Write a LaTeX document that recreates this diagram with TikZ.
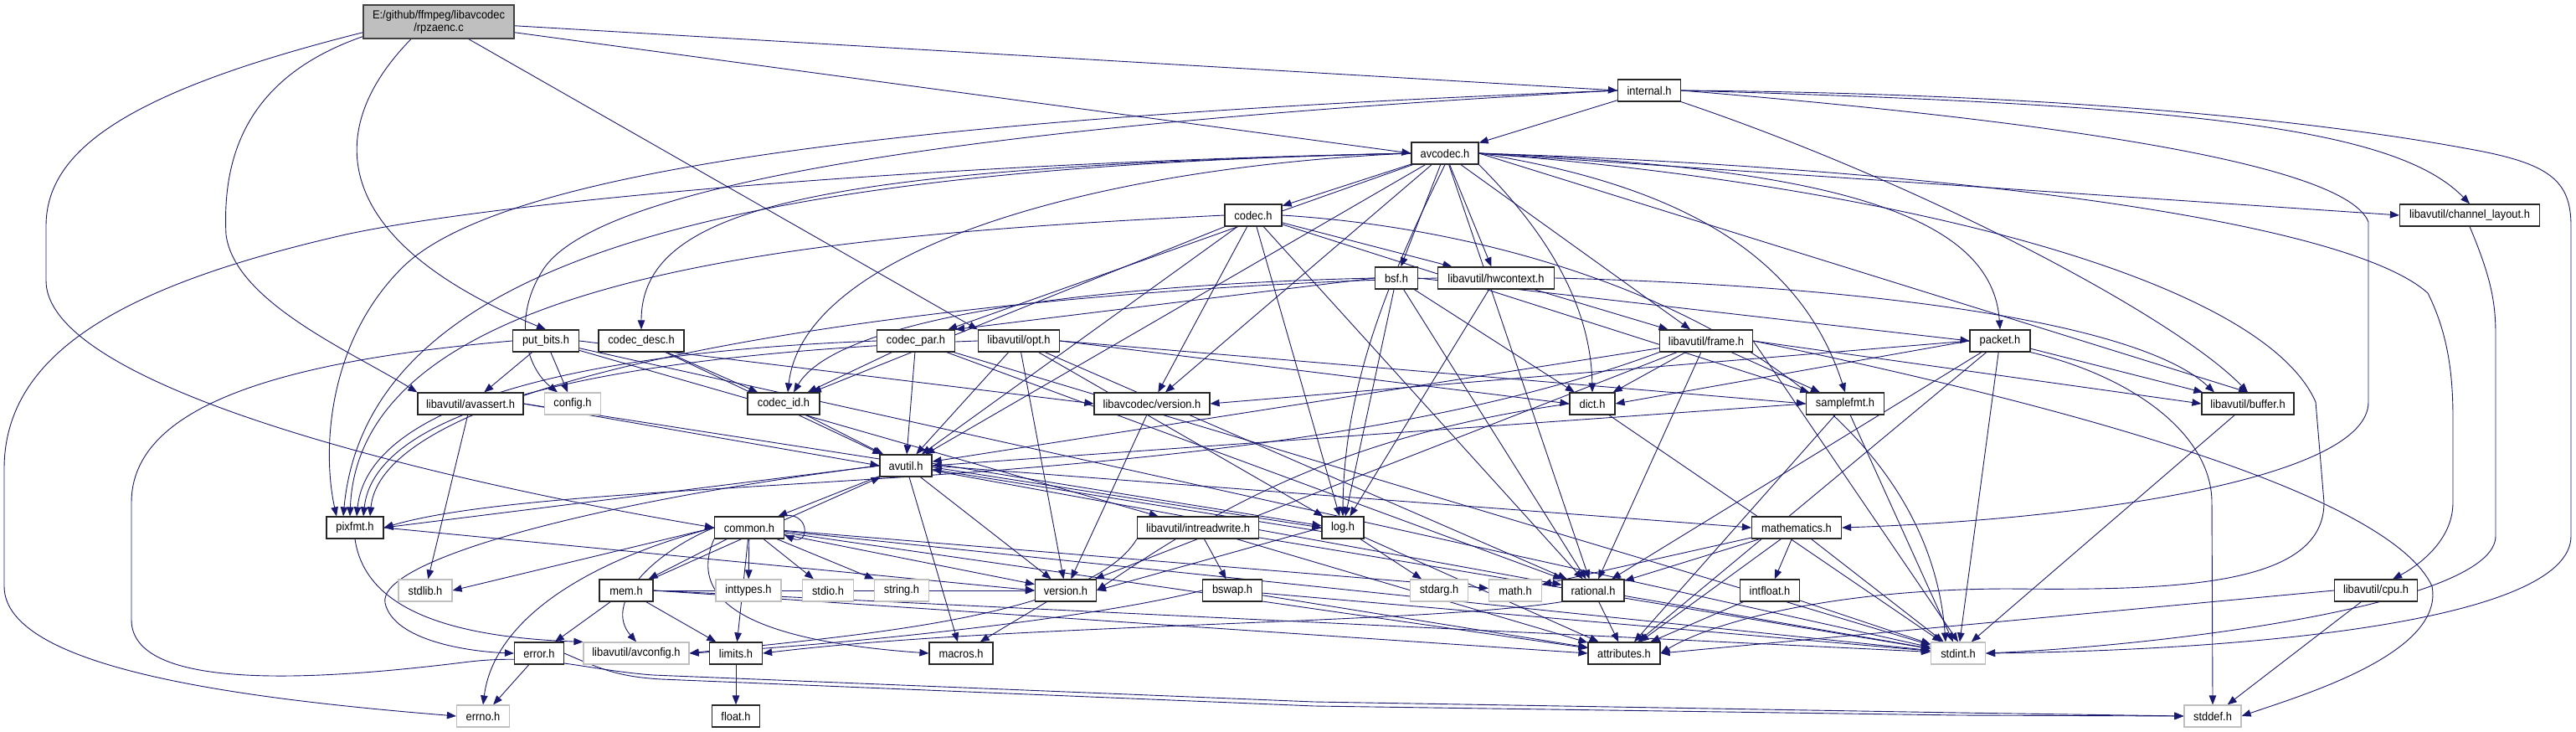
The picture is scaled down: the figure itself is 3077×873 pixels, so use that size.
\documentclass[tikz,border=0pt]{standalone}
\usepackage{fontspec}
\setmainfont[FakeStretch=0.92]{Liberation Sans}
\usetikzlibrary{arrows.meta}
\definecolor{edgec}{HTML}{191970}
\definecolor{sysc}{HTML}{BFBFBF}
\definecolor{rootc}{HTML}{BFBFBF}
\pgfdeclarelayer{edgelayer}
\pgfsetlayers{edgelayer,main}
\begin{document}
\begin{tikzpicture}[x=1pt,y=-1pt,
  nd/.style={draw=black!85, fill=white, line width=1.2pt, minimum height=26pt, inner sep=0pt, font=\fontsize{14}{15}\selectfont},
  sys/.style={nd, draw=sysc},
  e/.style={draw=edgec, line width=0.9pt, -{Triangle[length=11pt,width=8.5pt]}}]
\useasboundingbox (0,0) rectangle (3077,873);
% nodes
\node[nd,fill=rootc,draw=black!75,minimum width=180pt,minimum height=40pt,align=center] (root) at (524,26) {E:/github/ffmpeg/libavcodec\\/rpzaenc.c};
\node[nd,minimum width=75pt] (internal) at (1970,108) {internal.h};
\node[nd,minimum width=80pt] (avcodec) at (1726,183) {avcodec.h};
\node[nd,minimum width=68pt] (codec) at (1497,257) {codec.h};
\node[nd,minimum width=167pt] (chlayout) at (2950,257) {libavutil/channel\_layout.h};
\node[nd,minimum width=51pt] (bsf) at (1668,332) {bsf.h};
\node[nd,minimum width=139pt] (hwctx) at (1787,332) {libavutil/hwcontext.h};
\node[nd,minimum width=79pt] (putbits) at (652,407) {put\_bits.h};
\node[nd,minimum width=102pt] (codecdesc) at (766,407) {codec\_desc.h};
\node[nd,minimum width=93pt] (codecpar) at (1094,407) {codec\_par.h};
\node[nd,minimum width=97pt] (opt) at (1217,407) {libavutil/opt.h};
\node[nd,minimum width=111pt] (frame) at (2038,407) {libavutil/frame.h};
\node[nd,minimum width=72pt] (packet) at (2389,407) {packet.h};
\node[nd,minimum width=126pt] (avassert) at (562,482) {libavutil/avassert.h};
\node[sys,minimum width=67pt] (config) at (684,482) {config.h};
\node[nd,minimum width=86pt] (codecid) at (936,482) {codec\_id.h};
\node[nd,minimum width=138pt] (lavcversion) at (1376,482) {libavcodec/version.h};
\node[nd,minimum width=54pt] (dict) at (1902,482) {dict.h};
\node[nd,minimum width=93pt] (samplefmt) at (2204,482) {samplefmt.h};
\node[nd,minimum width=110pt] (buffer) at (2685,482) {libavutil/buffer.h};
\node[nd,minimum width=62pt] (avutil) at (1082,556) {avutil.h};
\node[nd,minimum width=68pt] (pixfmt) at (424,630) {pixfmt.h};
\node[nd,minimum width=83pt] (common) at (895,630) {common.h};
\node[nd,minimum width=145pt] (intrw) at (1431,630) {libavutil/intreadwrite.h};
\node[nd,minimum width=50pt] (log) at (1604,630) {log.h};
\node[nd,minimum width=107pt] (math) at (2146,630) {mathematics.h};
\node[sys,minimum width=64pt] (stdlib) at (508,705) {stdlib.h};
\node[nd,minimum width=64pt] (mem) at (748,705) {mem.h};
\node[sys,minimum width=78pt] (inttypes) at (894,705) {inttypes.h};
\node[sys,minimum width=61pt] (stdio) at (989,705) {stdio.h};
\node[sys,minimum width=65pt] (string) at (1077,705) {string.h};
\node[nd,minimum width=73pt] (version) at (1273,705) {version.h};
\node[nd,minimum width=71pt] (bswap) at (1472,705) {bswap.h};
\node[sys,minimum width=69pt] (stdarg) at (1719,705) {stdarg.h};
\node[sys,minimum width=63pt] (mathh) at (1810,705) {math.h};
\node[nd,minimum width=74pt] (rational) at (1903,705) {rational.h};
\node[nd,minimum width=71pt] (intfloat) at (2114,705) {intfloat.h};
\node[nd,minimum width=99pt] (cpu) at (2838,705) {libavutil/cpu.h};
\node[nd,minimum width=59pt] (error) at (644,780) {error.h};
\node[sys,minimum width=126pt] (avconfig) at (760,780) {libavutil/avconfig.h};
\node[nd,minimum width=63pt] (limits) at (879,780) {limits.h};
\node[nd,minimum width=76pt] (macros) at (1148,780) {macros.h};
\node[nd,minimum width=86pt] (attributes) at (1940,780) {attributes.h};
\node[sys,minimum width=65pt] (stdint) at (2339,780) {stdint.h};
\node[sys,minimum width=63pt] (errno) at (577,855) {errno.h};
\node[nd,minimum width=57pt] (float) at (879,855) {float.h};
\node[sys,minimum width=68pt] (stddef) at (2643,855) {stddef.h};
\begin{pgfonlayer}{edgelayer}
\fill[white] (0,0) rectangle (3077,873);
% root
\draw[e] (root.-3) -- (internal.west);
\draw[e] (root.-8) -- (avcodec.west);
\draw[e] (root.-30) -- (opt.north west);
\draw[e] (root.212) .. controls (380,160) and (400,290) .. (putbits.north);
\draw[e] (root.191) .. controls (300,90) and (265,180) .. (270,280) .. controls (280,360) and (420,420) .. (avassert.north west);
\draw[e] (root.188) .. controls (150,110) and (55,180) .. (55,270) -- (55,335) .. controls (55,460) and (500,570) .. (common.west);
% internal
\draw[e] (internal) -- (avcodec);
\draw[e] (internal.east) .. controls (2600,125) and (2860,150) .. (chlayout.north);
\draw[e] (internal.east) .. controls (2500,112) and (2800,150) .. (2950,178) .. controls (3045,195) and (3071,215) .. (3071,270) -- (3071,640) .. controls (3071,740) and (2700,776) .. (stdint.east);
\draw[e] (internal.east) .. controls (2400,140) and (2800,190) .. (2829,265) -- (2829,480) .. controls (2829,570) and (2500,620) .. (math.east);
\draw[e] (internal.south east) .. controls (2300,220) and (2600,380) .. (buffer.north);
\draw[e] (internal.west) .. controls (1100,140) and (600,200) .. (480,320) .. controls (390,410) and (385,540) .. ([xshift=-22pt]pixfmt.north);
\draw[e] (internal.west) .. controls (1150,150) and (720,220) .. (650,320) .. controls (610,380) and (630,440) .. ([xshift=-18pt]config.north);
% avcodec
\draw[e] (avcodec.west) .. controls (1100,195) and (600,240) .. (413,280) .. controls (150,340) and (5,420) .. (5,560) -- (5,700) .. controls (5,800) and (300,835) .. (errno.west);
\draw[e] (avcodec) -- (codec);
\draw[e] (avcodec) -- (bsf);
\draw[e] (avcodec) -- (hwctx);
\draw[e] (avcodec.south) .. controls (1660,330) and (1605,460) .. (log.north);
\draw[e] (avcodec.south east) .. controls (1830,260) and (1900,350) .. (dict.north);
\draw[e] (avcodec) -- (frame);
\draw[e] (avcodec.east) .. controls (2000,220) and (2150,300) .. (samplefmt.north);
\draw[e] (avcodec.east) .. controls (2200,200) and (2380,260) .. (packet.north);
\draw[e] (avcodec.east) -- (chlayout.west);
\draw[e] (avcodec.east) .. controls (2300,200) and (2800,260) .. (2900,350) .. controls (2925,400) and (2930,450) .. (2930,500) -- (2930,600) .. controls (2930,650) and (2880,680) .. ([xshift=20pt]cpu.north);
\draw[e] (avcodec.east) .. controls (2250,220) and (2700,330) .. (2766,480) -- (2776,600) .. controls (2776,700) and (2600,705) .. (2400,703) .. controls (2200,703) and (2050,740) .. (attributes.east);
\draw[e] (avcodec.east) -- (buffer.north);
\draw[e] (avcodec) -- (rational);
\draw[e] (avcodec) -- (avutil);
\draw[e] (avcodec.west) .. controls (900,200) and (440,300) .. ([xshift=-14pt]pixfmt.north);
\draw[e] (avcodec.west) .. controls (1000,200) and (766,240) .. (codecdesc.north);
\draw[e] (avcodec.west) .. controls (1300,200) and (960,300) .. ([xshift=5pt]codecid.north);
\draw[e] (avcodec) -- (codecpar);
\draw[e] (avcodec) -- (lavcversion);
% codec
\draw[e] (codec.east) .. controls (1900,280) and (2300,450) .. ([xshift=-15pt]stdint.north);
\draw[e] (codec) -- (avutil);
\draw[e] (codec) -- (hwctx);
\draw[e] (codec) -- (log);
\draw[e] (codec.west) .. controls (1000,280) and (430,320) .. ([xshift=-6pt]pixfmt.north);
\draw[e] (codec) -- (rational);
\draw[e] (codec) -- (samplefmt);
\draw[e] (codec) -- (codecid);
\draw[e] (codec) -- (lavcversion);
% codec_desc
\draw[e] (codecdesc) -- (avutil);
\draw[e] (codecdesc) -- (codecid);
% codec_par
\draw[e] (codecpar) -- (codecid);
\draw[e] (codecpar) -- (avutil);
\draw[e] (codecpar) -- (rational);
\draw[e] (codecpar.west) .. controls (700,420) and (440,480) .. ([xshift=2pt]pixfmt.north);
\draw[e] (codecpar) -- (stdint);
% codec_id
\draw[e] (codecid) -- (avutil);
% bsf
\draw[e] (bsf) -- (dict);
\draw[e] (bsf) -- (log);
\draw[e] (bsf) -- (rational);
\draw[e] (bsf.west) .. controls (1300,340) and (1000,380) .. ([xshift=12pt]codecid.north);
\draw[e] (bsf.west) -- (codecpar.north east);
\draw[e] (bsf.east) -- (packet.west);
% packet
\draw[e] (packet.south east) .. controls (2550,450) and (2642,520) .. (2642,600) -- (stddef.north);
\draw[e] (packet) -- (stdint);
\draw[e] (packet) -- (attributes);
\draw[e] (packet) -- (buffer);
\draw[e] (packet.west) -- (dict.east);
\draw[e] (packet) -- (rational);
\draw[e] (packet.west) -- (lavcversion.east);
% libavcodec/version
\draw[e] (lavcversion) -- (version);
% put_bits
\draw[e] (putbits.west) .. controls (350,430) and (157,480) .. (157,600) -- (157,740) .. controls (157,830) and (400,810) .. (561,790) .. controls (650,780) and (700,800) .. (780,806) -- (1570,838) -- (2340,851) -- (stddef.west);
\draw[e] (putbits) -- (stdint);
\draw[e] (putbits) -- (intrw);
\draw[e] (putbits) -- (config);
\draw[e] (putbits) -- (avassert);
\draw[e] (putbits.east) -- (lavcversion.west);
% opt
\draw[e] (opt) -- (rational);
\draw[e] (opt) -- (avutil);
\draw[e] (opt.east) -- (dict.west);
\draw[e] (opt) -- (log);
\draw[e] (opt.west) .. controls (800,420) and (450,470) .. ([xshift=10pt]pixfmt.north);
\draw[e] (opt.east) -- (samplefmt.west);
\draw[e] (opt) -- (version);
% hwcontext
\draw[e] (hwctx.east) .. controls (2200,340) and (2550,380) .. ([xshift=-40pt]buffer.north);
\draw[e] (hwctx) -- (frame);
\draw[e] (hwctx) -- (log);
\draw[e] (hwctx.west) .. controls (1200,345) and (460,430) .. ([xshift=18pt]pixfmt.north);
% frame
\draw[e] (frame.east) .. controls (2400,470) and (2850,580) .. (2905,700) .. controls (2920,780) and (2750,830) .. (stddef.east);
\draw[e] (frame.east) -- (stdint.north);
\draw[e] (frame) -- (avutil);
\draw[e] (frame.east) -- (buffer.west);
\draw[e] (frame) -- (dict);
\draw[e] (frame) -- (rational);
\draw[e] (frame) -- (samplefmt);
\draw[e] (frame.south west) .. controls (1500,600) and (700,560) .. (pixfmt.east);
\draw[e] (frame) -- (version);
% dict, samplefmt, buffer, channel_layout, cpu
\draw[e] (dict) -- (stdint);
\draw[e] (dict.west) .. controls (1600,520) and (1450,610) .. (version.east);
\draw[e] (samplefmt) -- (stdint);
\draw[e] (samplefmt.west) -- (avutil.east);
\draw[e] (samplefmt) -- (attributes);
\draw[e] (buffer) -- (stdint);
\draw[e] (chlayout.south) .. controls (2975,330) and (2981,360) .. (2981,400) -- (2981,640) .. controls (2981,720) and (2600,770) .. (stdint.east);
\draw[e] (cpu) -- (stddef);
\draw[e] (cpu.west) -- (attributes.east);
% avassert
\draw[e] (avassert) -- (stdlib);
\draw[e] (avassert.east) -- (avutil.west);
\draw[e] (avassert.east) -- (log.west);
% avutil
\draw[e] (avutil) -- (common);
\draw[e] (avutil.west) .. controls (700,600) and (450,670) .. (460,720) .. controls (470,765) and (560,778) .. (error.west);
\draw[e] (avutil) -- (rational);
\draw[e] (avutil) -- (version);
\draw[e] (avutil) -- (macros);
\draw[e] (avutil.east) -- (math.west);
\draw[e] (avutil.5) -- (log.175);
\draw[e] (avutil.west) -- (pixfmt.east);
% pixfmt
\draw[e] (pixfmt.south) .. controls (435,720) and (520,760) .. (avconfig.north west);
\draw[e] (pixfmt.east) -- (version.west);
% common
\draw[e] (common.west) .. controls (700,670) and (590,740) .. (errno.north);
\draw[e] (common) -- (inttypes);
\draw[e] (common) -- (limits);
\draw[e] (common) -- (mathh);
\draw[e] (common) -- (stdint);
\draw[e] (common) -- (stdio);
\draw[e] (common.west) -- (stdlib.east);
\draw[e] (common) -- (string);
\draw[e] (common) -- (attributes);
\draw[e] (common.south west) .. controls (820,720) and (900,765) .. (macros.west);
\draw[e] (common) -- (version);
\draw[e] (common.west) .. controls (780,660) and (720,720) .. (avconfig.north);
\draw[e] (common) -- (mem);
\draw[e] (common.20) .. controls (968,608) and (968,652) .. (common.-12);
% mem
\draw[e] (mem) -- (limits);
\draw[e] (mem.east) -- (stdint);
\draw[e] (mem.east) -- (attributes.west);
\draw[e] (mem) -- (error);
\draw[e] (mem) -- (avutil);
\draw[e] (mem) -- (version);
% intreadwrite
\draw[e] (intrw) -- (stdint);
\draw[e] (intrw.south west) .. controls (1300,740) and (1000,760) .. (avconfig.east);
\draw[e] (intrw) -- (attributes);
\draw[e] (intrw) -- (bswap);
% bswap
\draw[e] (bswap) -- (stdint);
\draw[e] (bswap.west) .. controls (1300,740) and (1000,770) .. (avconfig.east);
\draw[e] (bswap) -- (attributes);
% log
\draw[e] (log) -- (stdarg);
\draw[e] (log) -- (attributes);
\draw[e] (log.west) -- (version.east);
\draw[e] (log.190) -- (avutil.-8);
% mathematics
\draw[e] (math) -- (stdint);
\draw[e] (math) -- (mathh);
\draw[e] (math) -- (attributes);
\draw[e] (math) -- (rational);
\draw[e] (math) -- (intfloat);
% intfloat
\draw[e] (intfloat) -- (stdint);
\draw[e] (intfloat) -- (attributes);
% rational
\draw[e] (rational) -- (stdint);
\draw[e] (rational.south west) .. controls (1700,745) and (1200,745) .. (limits.east);
\draw[e] (rational) -- (attributes);
% others
\draw[e] (version) -- (macros);
\draw[e] (limits) -- (float);
\draw[e] (error) -- (errno);
\draw[e] (error.east) .. controls (720,800) and (740,808) .. (790,811) -- (1570,843) -- (2340,854) -- (stddef.west);
\end{pgfonlayer}
\end{tikzpicture}
\end{document}
